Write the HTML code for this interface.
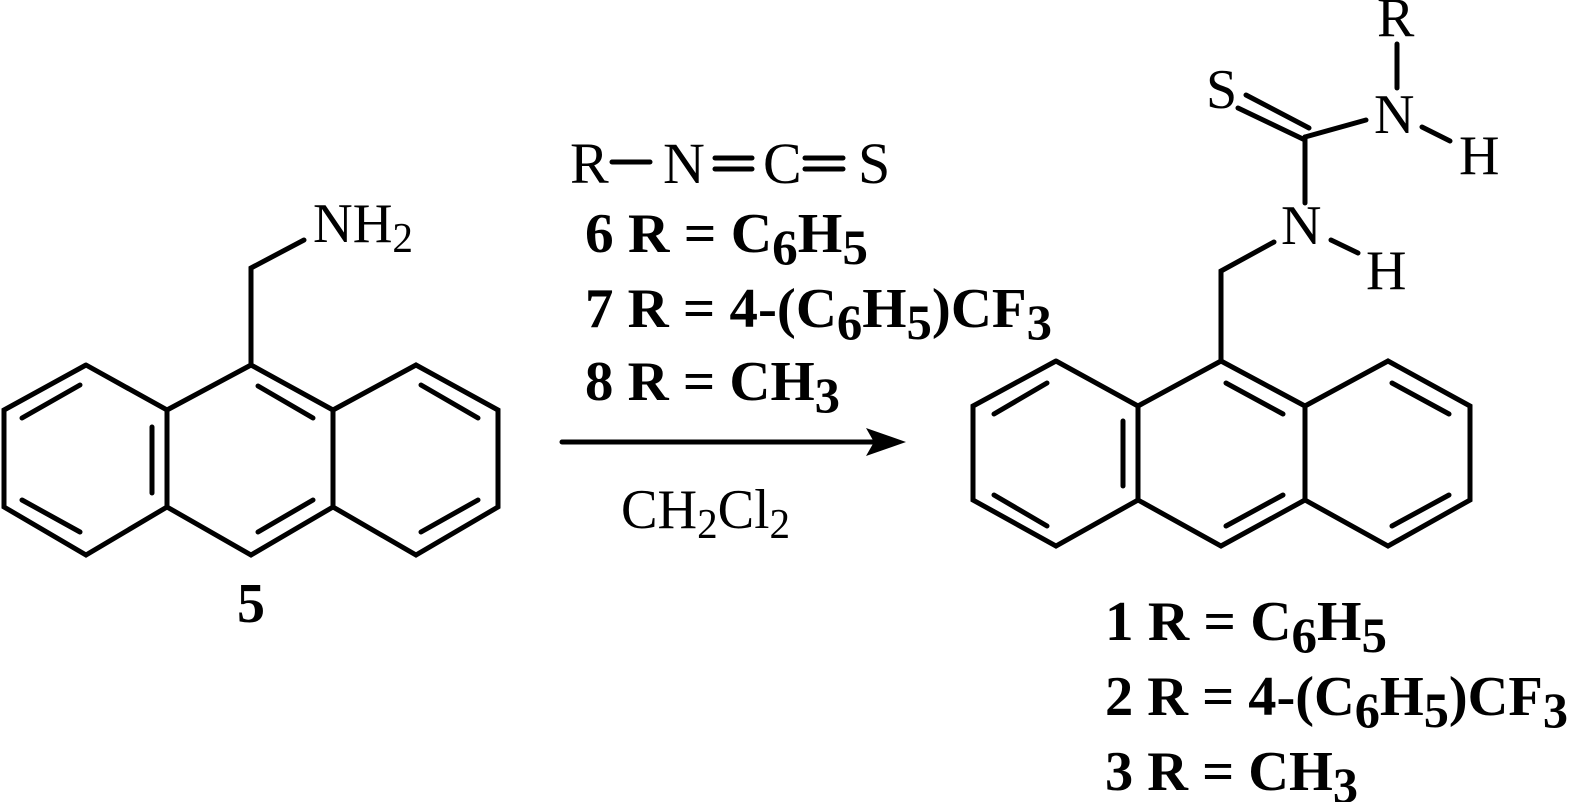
<!DOCTYPE html>
<html><head><meta charset="utf-8"><style>
html,body{margin:0;padding:0;background:#fff;}
svg{display:block;}
text{font-family:"Liberation Serif","Times New Roman",Times,serif;fill:#000;}
.b{font-weight:bold;}
</style></head><body>
<svg width="1571" height="802" viewBox="0 0 1571 802" xmlns="http://www.w3.org/2000/svg">
<g stroke="#000" stroke-width="5" fill="none" stroke-linecap="round" stroke-linejoin="miter">
<polyline points="86,365 4,410 4,507 86,555 167,507 167,410 86,365"/>
<polyline points="167,410 251,365 333,410 333,507 251,555 167,507"/>
<polyline points="333,410 416,365 498,410 498,507 416,555 333,507"/>
<line x1="22" y1="418" x2="80" y2="385"/>
<line x1="22" y1="500" x2="80" y2="532"/>
<line x1="152" y1="427" x2="152" y2="493"/>
<line x1="258" y1="386" x2="313" y2="418"/>
<line x1="258" y1="532" x2="313" y2="500"/>
<line x1="421" y1="385" x2="478" y2="418"/>
<line x1="421" y1="532" x2="478" y2="500"/>
<polyline points="251,365 251,268 304,240"/>
<polyline points="1056,361 973,406 973,500 1056,546 1138,500 1138,406 1056,361"/>
<polyline points="1138,406 1221,361 1305,406 1305,500 1221,546 1138,500"/>
<polyline points="1305,406 1388,361 1470,406 1470,500 1388,546 1305,500"/>
<line x1="994" y1="414" x2="1047" y2="383"/>
<line x1="994" y1="495" x2="1047" y2="526"/>
<line x1="1123" y1="421" x2="1123" y2="486"/>
<line x1="1226" y1="383" x2="1283" y2="414"/>
<line x1="1226" y1="526" x2="1283" y2="495"/>
<line x1="1392" y1="383" x2="1449" y2="414"/>
<line x1="1392" y1="526" x2="1449" y2="495"/>
<polyline points="1221,361 1221,271 1274,242"/>
<line x1="1331" y1="240" x2="1358" y2="253"/>
<line x1="1305" y1="203" x2="1305" y2="137"/>
<line x1="1238" y1="108" x2="1305" y2="140"/>
<line x1="1246" y1="95" x2="1309" y2="128"/>
<line x1="1305" y1="137" x2="1366" y2="120"/>
<line x1="1422" y1="127" x2="1450" y2="141"/>
<line x1="1397" y1="44" x2="1397" y2="88"/>
<line x1="612" y1="162" x2="650" y2="162"/>
<line x1="715" y1="158" x2="752" y2="158"/>
<line x1="715" y1="169" x2="752" y2="169"/>
<line x1="805" y1="158" x2="843" y2="158"/>
<line x1="805" y1="169" x2="843" y2="169"/>
<line x1="562" y1="442" x2="880" y2="442"/>
</g>
<polygon points="906,442 866,428 874,442 866,456" fill="#000"/>
<text x="313" y="242" font-size="56" textLength="100" lengthAdjust="spacingAndGlyphs">NH<tspan font-size="42" dy="10">2</tspan></text>
<text x="237" y="622" font-size="56" class="b">5</text>
<text x="1281" y="244" font-size="56">N</text>
<text x="1366" y="289" font-size="56">H</text>
<text x="1374" y="133" font-size="56">N</text>
<text x="1459" y="174" font-size="56">H</text>
<text x="1377" y="36" font-size="56">R</text>
<text x="1206" y="108" font-size="56">S</text>
<text x="570" y="183" font-size="58">R</text>
<text x="663" y="183" font-size="58">N</text>
<text x="763" y="183" font-size="58">C</text>
<text x="858" y="183" font-size="58">S</text>
<text class="b" x="585" y="252" font-size="56" textLength="283" lengthAdjust="spacingAndGlyphs">6 R = C<tspan dy="12" font-size="50">6</tspan><tspan dy="-12">H</tspan><tspan dy="12" font-size="50">5</tspan></text>
<text class="b" x="585" y="327" font-size="56" textLength="467" lengthAdjust="spacingAndGlyphs">7 R = 4-(C<tspan dy="12" font-size="50">6</tspan><tspan dy="-12">H</tspan><tspan dy="12" font-size="50">5</tspan><tspan dy="-12">)CF</tspan><tspan dy="12" font-size="50">3</tspan></text>
<text class="b" x="585" y="400" font-size="56" textLength="255" lengthAdjust="spacingAndGlyphs">8 R = CH<tspan dy="12" font-size="50">3</tspan></text>
<text x="621" y="528" font-size="56" textLength="169" lengthAdjust="spacingAndGlyphs">CH<tspan dy="10" font-size="42">2</tspan><tspan dy="-10">Cl</tspan><tspan dy="10" font-size="42">2</tspan></text>
<text class="b" x="1105" y="640" font-size="56" textLength="282" lengthAdjust="spacingAndGlyphs">1 R = C<tspan dy="12" font-size="50">6</tspan><tspan dy="-12">H</tspan><tspan dy="12" font-size="50">5</tspan></text>
<text class="b" x="1105" y="715" font-size="56" textLength="463" lengthAdjust="spacingAndGlyphs">2 R = 4-(C<tspan dy="12" font-size="50">6</tspan><tspan dy="-12">H</tspan><tspan dy="12" font-size="50">5</tspan><tspan dy="-12">)CF</tspan><tspan dy="12" font-size="50">3</tspan></text>
<text class="b" x="1105" y="790" font-size="56" textLength="253" lengthAdjust="spacingAndGlyphs">3 R = CH<tspan dy="12" font-size="50">3</tspan></text>
</svg>
</body></html>
